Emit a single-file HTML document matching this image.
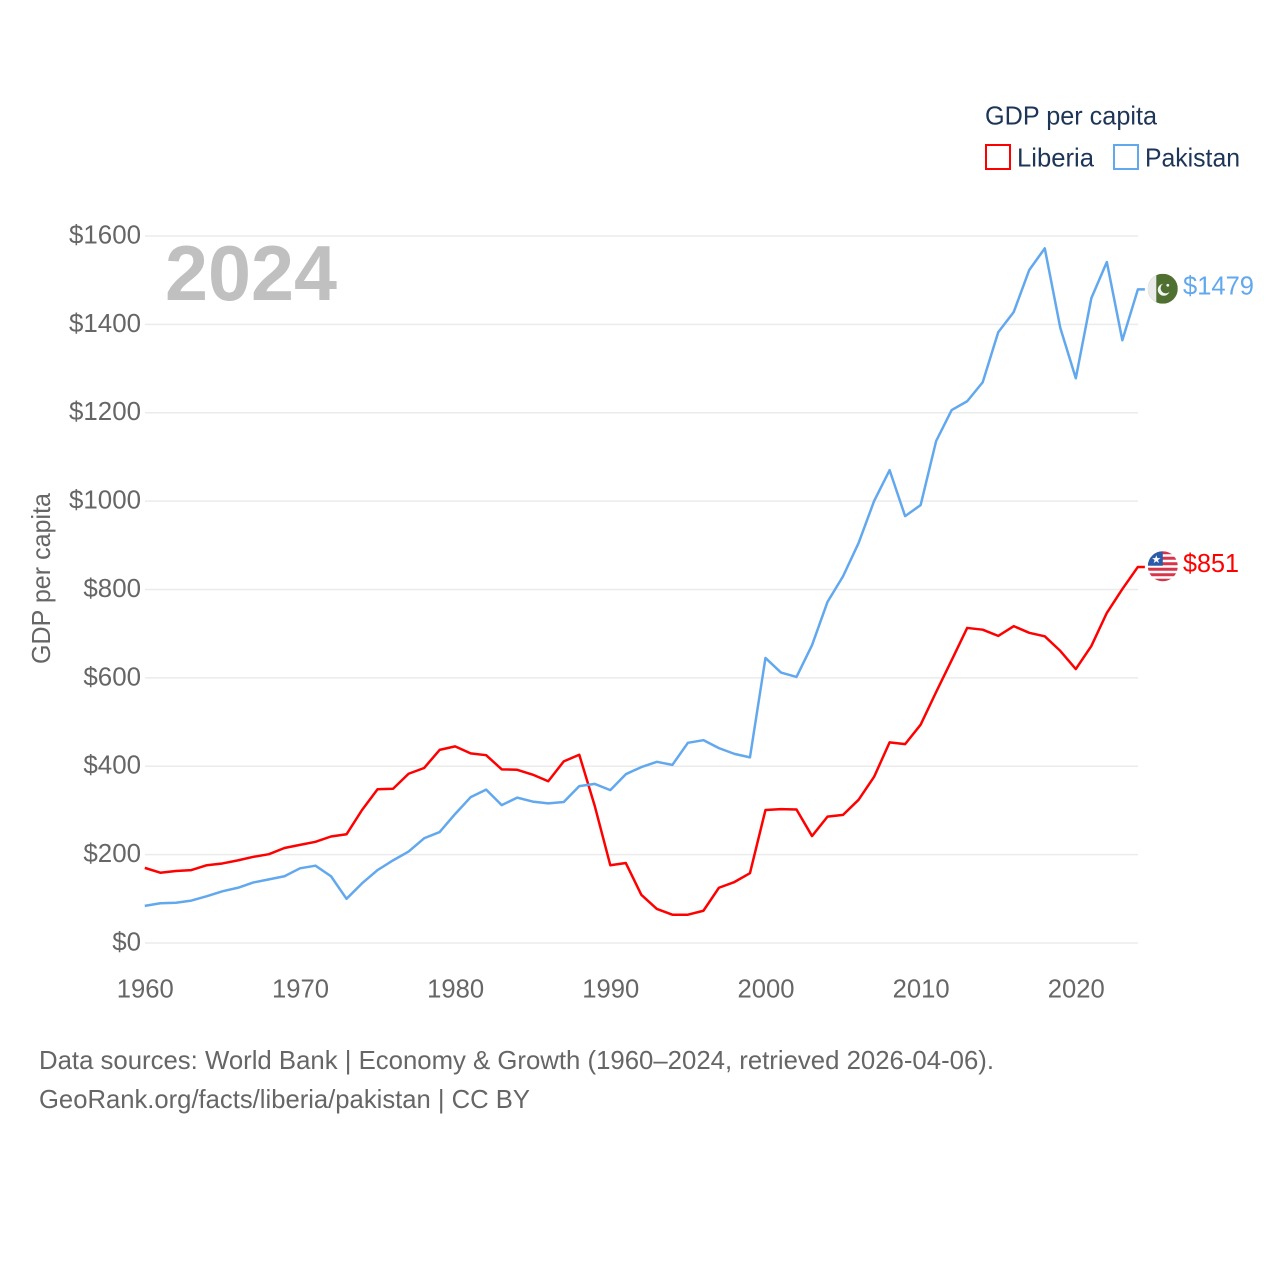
<!DOCTYPE html>
<html lang="en">
<head>
<meta charset="utf-8">
<title>GDP per capita: Liberia and Pakistan</title>
<style>
html,body{margin:0;padding:0;background:#fff;}
svg{display:block;}
text{font-family:"Liberation Sans",sans-serif;}
</style>
</head>
<body>
<svg id="chart" xmlns="http://www.w3.org/2000/svg" width="1280" height="1280" viewBox="0 0 1280 1280">
  <defs>
    <clipPath id="flag-clip"><circle cx="0" cy="0" r="15"/></clipPath>
  </defs>
  <rect x="0" y="0" width="1280" height="1280" fill="#ffffff"/>
  <g id="grid"></g>
  <g id="ylabels"></g>
  <g id="xlabels"></g>
  <text x="165" y="300" font-size="78" font-weight="700" fill="#c0c0c0" textLength="172" lengthAdjust="spacingAndGlyphs">2024</text>
  <text transform="translate(50,664) rotate(-90)" font-size="26" fill="#666666" textLength="171" lengthAdjust="spacingAndGlyphs">GDP per capita</text>
  <g id="series"></g>

  <g id="flag-pakistan">
    <g clip-path="url(#flag-clip)">
      <rect x="-15" y="-15" width="30" height="30" fill="#4f7031"/>
      <rect x="-15" y="-15" width="8.5" height="30" fill="#ebebeb"/>
      <circle cx="1" cy="1" r="6" fill="#f4f4f4"/>
      <circle cx="3" cy="-0.5" r="5.2" fill="#4f7031"/>
      <circle cx="5" cy="-3.5" r="1.4" fill="#f4f4f4"/>
    </g>
  </g>
  <g id="flag-liberia">
    <g clip-path="url(#flag-clip)">
      <rect x="-15" y="-15" width="30" height="30" fill="#ffffff"/>
      <rect x="-15" y="-15" width="30" height="3" fill="#d8344a"/>
      <rect x="-15" y="-9.5" width="30" height="3" fill="#d8344a"/>
      <rect x="-15" y="-4" width="30" height="3" fill="#d8344a"/>
      <rect x="-15" y="1.5" width="30" height="3" fill="#d8344a"/>
      <rect x="-15" y="7" width="30" height="3" fill="#d8344a"/>
      <rect x="-15" y="12.5" width="30" height="3" fill="#d8344a"/>
      <rect x="-15" y="-15" width="15" height="14.5" fill="#2a5caa"/>
      <polygon points="-6.5,-11 -5.4,-8.1 -2.3,-8.1 -4.8,-6.2 -3.9,-3.2 -6.5,-5 -9.1,-3.2 -8.2,-6.2 -10.7,-8.1 -7.6,-8.1" fill="#ffffff"/>
    </g>
  </g>
  <text id="value-pakistan" x="1183" font-size="26" fill="#62a8ee" textLength="71" lengthAdjust="spacingAndGlyphs"></text>
  <text id="value-liberia" x="1183" font-size="26" fill="#ff0000" textLength="56" lengthAdjust="spacingAndGlyphs"></text>

  <g>
    <text x="985" y="124.5" font-size="26" fill="#1d3557" textLength="172" lengthAdjust="spacingAndGlyphs">GDP per capita</text>
    <rect x="986" y="145" width="24" height="24" fill="none" stroke="#ff0000" stroke-width="2"/>
    <text x="1017" y="166.5" font-size="26" fill="#1d3557" textLength="77" lengthAdjust="spacingAndGlyphs">Liberia</text>
    <rect x="1114" y="145" width="24" height="24" fill="none" stroke="#62a8ee" stroke-width="2"/>
    <text x="1145" y="166.5" font-size="26" fill="#1d3557" textLength="95" lengthAdjust="spacingAndGlyphs">Pakistan</text>
  </g>

  <text x="39" y="1069" font-size="26" fill="#666666" textLength="955" lengthAdjust="spacingAndGlyphs">Data sources: World Bank | Economy &amp; Growth (1960–2024, retrieved 2026-04-06).</text>
  <text x="39" y="1108" font-size="26" fill="#666666" textLength="491" lengthAdjust="spacingAndGlyphs">GeoRank.org/facts/liberia/pakistan | CC BY</text>
</svg>
<script>
const firstYear = 1960;
const xTicks = [1960, 1970, 1980, 1990, 2000, 2010, 2020];
const yTicks = [0, 200, 400, 600, 800, 1000, 1200, 1400, 1600];
const liberiaValues = [170,159,163,165,176,180,187,195,201,215,222,229,241,246,301,348,349,383,396,437,445,429,425,393,392,381,366,411,426,310,176,181,109,77,64,64,73,125,138,158,301,303,302,242,286,290,324,376,454,450,494,568,640,713,709,695,717,702,694,661,620,672,747,801,851];
const pakistanValues = [84,90,91,96,106,117,125,137,144,151,169,175,151,100,135,165,187,207,237,251,292,330,347,312,329,320,316,319,355,360,346,382,398,410,403,453,459,441,428,420,645,612,602,674,772,830,905,1000,1070,966,991,1136,1206,1226,1269,1382,1428,1523,1572,1392,1278,1459,1541,1364,1479];

const NS = 'http://www.w3.org/2000/svg';
const xScale = function (year) { return 144.8 + (year - 1960) * 15.5167; };
const yScale = function (value) { return 943 - value * 0.4419; };
const make = function (tag, parent) {
  const el = document.createElementNS(NS, tag);
  parent.appendChild(el);
  return el;
};

const gridGroup = document.getElementById('grid');
const yLabelGroup = document.getElementById('ylabels');
yTicks.forEach(function (tick) {
  const line = make('line', gridGroup);
  
  
  line.setAttribute('x1', 145);
  line.setAttribute('x2', 1138);
  line.setAttribute('y1', yScale(tick));
  line.setAttribute('y2', yScale(tick));
  line.setAttribute('stroke', '#ebebeb');
  line.setAttribute('stroke-width', '1.5');
  const label = make('text', yLabelGroup);
  
  
  const str = '$' + tick;
  label.textContent = str;
  const w = str.length * 14.4;
  label.setAttribute('x', 141 - w);
  label.setAttribute('y', yScale(tick) + 7.5);
  label.setAttribute('font-size', '26');
  label.setAttribute('fill', '#666666');
  label.setAttribute('textLength', w);
  label.setAttribute('lengthAdjust', 'spacingAndGlyphs');
});

const xLabelGroup = document.getElementById('xlabels');
xTicks.forEach(function (tick) {
  const label = make('text', xLabelGroup);
  
  
  label.textContent = String(tick);
  label.setAttribute('x', xScale(tick) - 28);
  label.setAttribute('y', 997.5);
  label.setAttribute('font-size', '26');
  label.setAttribute('fill', '#666666');
  label.setAttribute('textLength', 57);
  label.setAttribute('lengthAdjust', 'spacingAndGlyphs');
});

const seriesGroup = document.getElementById('series');
const drawSeries = function (values, color, lineName, flagId, labelId) {
  const points = values.map(function (v, i) {
    return xScale(firstYear + i).toFixed(2) + ',' + yScale(v).toFixed(2);
  });
  const last = values[values.length - 1];
  const lastY = yScale(last);
  const lastX = xScale(firstYear + values.length - 1);
  points.push((lastX + 7).toFixed(2) + ',' + lastY.toFixed(2));
  const line = make('polyline', seriesGroup);
  
  
  line.setAttribute('points', points.join(' '));
  line.setAttribute('fill', 'none');
  line.setAttribute('stroke', color);
  line.setAttribute('stroke-width', '2.5');
  line.setAttribute('stroke-linejoin', 'round');
  document.getElementById(flagId).setAttribute('transform', 'translate(1162.8,' + (lastY - 0.7).toFixed(2) + ')');
  const label = document.getElementById(labelId);
  label.textContent = '$' + last;
  label.setAttribute('y', (lastY + 5).toFixed(2));
};
drawSeries(liberiaValues, '#ff0000', 'liberia-line', 'flag-liberia', 'value-liberia');
drawSeries(pakistanValues, '#62a8ee', 'pakistan-line', 'flag-pakistan', 'value-pakistan');
</script>
</body>
</html>
